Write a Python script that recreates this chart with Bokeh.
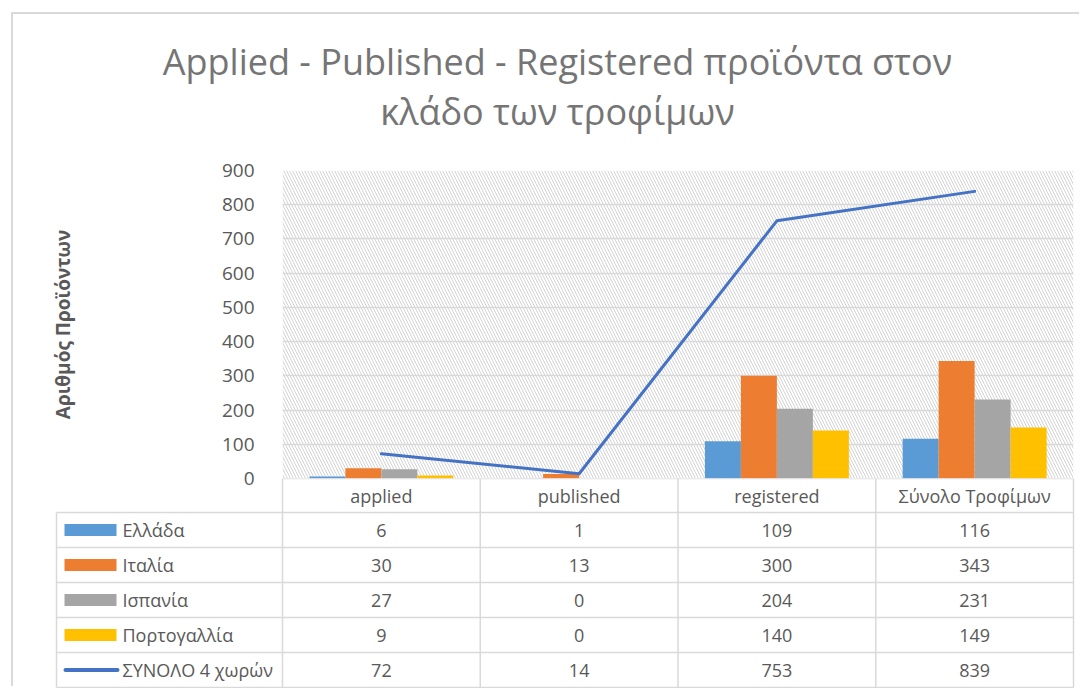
from bokeh.plotting import figure
from bokeh.layouts import column
from bokeh.models import Range1d, FactorRange, BoxAnnotation, ColumnDataSource, FixedTicker
from bokeh.transform import dodge
from bokeh.core.properties import value
from bokeh.embed import file_html
from bokeh.resources import INLINE

# ---------------- data ----------------
categories = ["applied", "published", "registered", "Σύνολο Τροφίμων"]
series_names = ["Ελλάδα", "Ιταλία", "Ισπανία", "Πορτογαλλία"]
greece = [6, 1, 109, 116]
italy = [30, 13, 300, 343]
spain = [27, 0, 204, 231]
portugal = [9, 0, 140, 149]
total_name = "ΣΥΝΟΛΟ 4 χωρών"
total = [72, 14, 753, 839]
y_ticks = [0, 100, 200, 300, 400, 500, 600, 700, 800, 900]
title_lines = ["Applied - Published - Registered προϊόντα στον", "κλάδο των τροφίμων"]
y_label = "Αριθμός Προϊόντων"

bar_colors = ["#5B9BD5", "#ED7D31", "#A5A5A5", "#FFC000"]
line_color = "#4472C4"

# ---------------- style / layout ----------------
FONT = "Open Sans"
TXT = "#595959"
GRID = "#D9D9D9"
W = 1068
H_TITLE = 142
TOP_PAD = 14
FRAME_H = 308
BOT_PAD = 14
H_CHART = TOP_PAD + FRAME_H + BOT_PAD
H_TABLE = 210
FRAME_L = 269
FRAME_R = 8


def bare(fig):
    fig.xaxis.visible = False
    fig.yaxis.visible = False
    fig.xgrid.visible = False
    fig.ygrid.visible = False
    fig.outline_line_color = None
    return fig


# ---------------- title ----------------
pt = figure(width=W, height=H_TITLE, x_range=Range1d(0, W), y_range=Range1d(H_TITLE, 0),
            min_border=0, toolbar_location=None, output_backend="svg", frame_align=False)
bare(pt)
pt.text(x=[544, 544], y=[47, 97], text=title_lines, text_align="center",
        text_baseline="middle", text_font=value(FONT), text_font_size="36px",
        text_color="#757575")

# ---------------- chart ----------------
p = figure(width=W, height=H_CHART, x_range=FactorRange(*categories),
           y_range=Range1d(0, 900), min_border_left=FRAME_L, min_border_right=FRAME_R,
           min_border_top=TOP_PAD, min_border_bottom=BOT_PAD, toolbar_location=None,
           output_backend="svg", frame_align=False)
p.outline_line_color = None
p.background_fill_color = None
p.border_fill_color = None
p.xaxis.visible = False
p.xgrid.visible = False
p.ygrid.grid_line_color = GRID
p.ygrid.grid_line_width = 1.3
p.yaxis.ticker = FixedTicker(ticks=y_ticks)
p.yaxis.axis_line_color = None
p.yaxis.major_tick_line_color = None
p.yaxis.minor_tick_line_color = None
p.yaxis.major_label_text_font = FONT
p.yaxis.major_label_text_font_size = "19px"
p.yaxis.major_label_text_color = TXT
p.yaxis.major_label_standoff = 22
p.yaxis.axis_label = y_label
p.yaxis.axis_label_text_font = FONT
p.yaxis.axis_label_text_font_size = "19px"
p.yaxis.axis_label_text_font_style = "bold"
p.yaxis.axis_label_text_color = TXT
p.yaxis.axis_label_standoff = 143

hatch = BoxAnnotation(fill_alpha=0, line_alpha=0, hatch_pattern="\\",
                      hatch_color="#D3D3D3", hatch_scale=6, hatch_weight=1,
                      level="image")
p.add_layout(hatch)

src = ColumnDataSource(dict(cat=categories, g=greece, i=italy, s=spain, pt=portugal, tot=total))
bw = 0.182
for k, (col, c) in enumerate(zip(["g", "i", "s", "pt"], bar_colors)):
    p.vbar(x=dodge("cat", (k - 1.5) * bw, range=p.x_range), top=col, width=bw,
           bottom=0, source=src, fill_color=c, line_color=None)
p.line(x="cat", y="tot", source=src, line_width=3, line_color=line_color,
       line_cap="round", line_join="round")

# ---------------- data table ----------------
tb = figure(width=W, height=H_TABLE, x_range=Range1d(0, W), y_range=Range1d(H_TABLE, 0),
            min_border=0, toolbar_location=None, output_backend="svg", frame_align=False,
            margin=(-BOT_PAD, 0, 0, 0))
bare(tb)
tb.background_fill_color = None
tb.border_fill_color = None
L0 = 43
C0 = FRAME_L
CW = (W - FRAME_L - FRAME_R) / len(categories)
HDR = 34
ROW = 35
n_rows = len(series_names) + 1
bottom = HDR + ROW * n_rows
right = C0 + CW * len(categories)

hx0, hx1, hy = [C0], [right], [0]
for r in range(n_rows + 1):
    hx0.append(L0)
    hx1.append(right)
    hy.append(HDR + ROW * r)
tb.segment(x0=hx0, x1=hx1, y0=hy, y1=hy, line_color=GRID, line_width=1.5)
vx = [C0 + CW * j for j in range(len(categories) + 1)] + [L0]
vy0 = [0] * (len(categories) + 1) + [HDR]
vy1 = [bottom] * (len(categories) + 2)
tb.segment(x0=vx, x1=vx, y0=vy0, y1=vy1, line_color=GRID, line_width=1.5)

col_centers = [C0 + CW * (j + 0.5) for j in range(len(categories))]
tb.text(x=col_centers, y=[HDR / 2] * len(categories), text=categories,
        text_align="center", text_baseline="middle", text_font=value(FONT),
        text_font_size="18px", text_color=TXT)

rows = [greece, italy, spain, portugal, total]
names = series_names + [total_name]
row_mid = [HDR + ROW * (r + 0.5) for r in range(n_rows)]

# legend keys
tb.quad(left=[51] * 4, right=[103] * 4, top=[m - 6 for m in row_mid[:4]],
        bottom=[m + 6 for m in row_mid[:4]], fill_color=bar_colors, line_color=None)
tb.segment(x0=[52], x1=[104], y0=[row_mid[4]], y1=[row_mid[4]], line_color=line_color,
           line_width=4, line_cap="round")
tb.text(x=[109] * n_rows, y=row_mid, text=names, text_align="left",
        text_baseline="middle", text_font=value(FONT), text_font_size="18px",
        text_color=TXT)

tx, ty, tt = [], [], []
for r, vals in enumerate(rows):
    for j, v in enumerate(vals):
        tx.append(col_centers[j])
        ty.append(row_mid[r])
        tt.append(str(v))
tb.text(x=tx, y=ty, text=tt, text_align="center", text_baseline="middle",
        text_font=value(FONT), text_font_size="18px", text_color=TXT)

layout = column(pt, p, tb, spacing=0, margin=(14, 0, 0, 13),
                styles={"box-shadow": "-2px -2px 0 0 #D9D9D9"})

open("out.html", "w").write(file_html(layout, INLINE))
